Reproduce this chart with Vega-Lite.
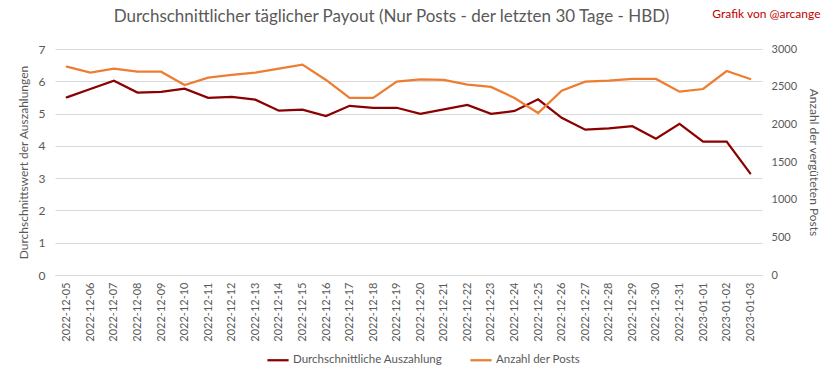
{
  "$schema": "https://vega.github.io/schema/vega-lite/v6.json",
  "width": 707,
  "height": 226,
  "autosize": {"type": "none"},
  "padding": {"left": 55, "top": 49, "right": 71, "bottom": 104},
  "background": "white",
  "title": {
    "text": "Durchschnittlicher täglicher Payout (Nur Posts - der letzten 30 Tage - HBD)",
    "anchor": "middle",
    "dx": -17,
    "dy": 33,
    "offset": 14,
    "fontSize": 17,
    "font": "Lato",
    "fontWeight": "normal",
    "color": "#595959"
  },
  "data": {
    "values": [
      {"date": "2022-12-05", "payout": 5.50, "posts": 2765},
      {"date": "2022-12-06", "payout": 5.76, "posts": 2686},
      {"date": "2022-12-07", "payout": 6.02, "posts": 2739},
      {"date": "2022-12-08", "payout": 5.65, "posts": 2699},
      {"date": "2022-12-09", "payout": 5.67, "posts": 2699},
      {"date": "2022-12-10", "payout": 5.77, "posts": 2522},
      {"date": "2022-12-11", "payout": 5.49, "posts": 2619},
      {"date": "2022-12-12", "payout": 5.52, "posts": 2655},
      {"date": "2022-12-13", "payout": 5.43, "posts": 2686},
      {"date": "2022-12-14", "payout": 5.09, "posts": 2739},
      {"date": "2022-12-15", "payout": 5.12, "posts": 2792},
      {"date": "2022-12-16", "payout": 4.92, "posts": 2589},
      {"date": "2022-12-17", "payout": 5.24, "posts": 2350},
      {"date": "2022-12-18", "payout": 5.18, "posts": 2350},
      {"date": "2022-12-19", "payout": 5.18, "posts": 2566},
      {"date": "2022-12-20", "payout": 4.99, "posts": 2598},
      {"date": "2022-12-21", "payout": 5.13, "posts": 2589},
      {"date": "2022-12-22", "payout": 5.27, "posts": 2527},
      {"date": "2022-12-23", "payout": 4.99, "posts": 2496},
      {"date": "2022-12-24", "payout": 5.08, "posts": 2350},
      {"date": "2022-12-25", "payout": 5.44, "posts": 2151},
      {"date": "2022-12-26", "payout": 4.87, "posts": 2447},
      {"date": "2022-12-27", "payout": 4.50, "posts": 2566},
      {"date": "2022-12-28", "payout": 4.54, "posts": 2580},
      {"date": "2022-12-29", "payout": 4.61, "posts": 2602},
      {"date": "2022-12-30", "payout": 4.22, "posts": 2602},
      {"date": "2022-12-31", "payout": 4.68, "posts": 2434},
      {"date": "2023-01-01", "payout": 4.13, "posts": 2469},
      {"date": "2023-01-02", "payout": 4.13, "posts": 2708},
      {"date": "2023-01-03", "payout": 3.15, "posts": 2602}
    ]
  },
  "encoding": {
    "x": {
      "field": "date",
      "type": "ordinal",
      "sort": null,
      "scale": {"type": "point", "padding": 0.5},
      "axis": {
        "title": null,
        "labelAngle": 270,
        "labelAlign": "right",
        "labelBaseline": "middle",
        "labelPadding": 7,
        "ticks": false,
        "domainColor": "#d9d9d9",
        "labelColor": "#595959",
        "labelFontSize": 11,
        "labelFont": "Lato"
      }
    }
  },
  "layer": [
    {
      "mark": {"type": "line", "strokeWidth": 2.25, "strokeCap": "round"},
      "encoding": {
        "y": {
          "field": "payout",
          "type": "quantitative",
          "scale": {"domain": [0, 7], "nice": false},
          "axis": {
            "title": "Durchschnittswert der Auszahlungen",
            "titleFont": "Lato",
            "titleFontSize": 12,
            "titleFontWeight": "normal",
            "titleColor": "#595959",
            "titlePadding": 8,
            "values": [0, 1, 2, 3, 4, 5, 6, 7],
            "grid": true,
            "gridColor": "#d9d9d9",
            "domain": false,
            "ticks": false,
            "labelPadding": 10,
            "labelColor": "#595959",
            "labelFontSize": 12,
            "labelFont": "Lato"
          }
        },
        "color": {
          "datum": "Durchschnittliche Auszahlung",
          "type": "nominal",
          "scale": {
            "domain": ["Durchschnittliche Auszahlung", "Anzahl der Posts"],
            "range": ["#8b0000", "#ed7d31"]
          },
          "legend": {
            "title": null,
            "orient": "none",
            "direction": "horizontal",
            "legendX": 211,
            "legendY": 299,
            "symbolType": "stroke",
            "symbolStrokeWidth": 2.25,
            "symbolSize": 450,
            "labelFont": "Lato",
            "labelFontSize": 11.5,
            "labelColor": "#595959",
            "columnPadding": 22,
            "labelOffset": 3
          }
        }
      }
    },
    {
      "mark": {"type": "line", "strokeWidth": 2.25, "strokeCap": "round"},
      "encoding": {
        "x": {
          "field": "date",
          "type": "ordinal",
          "sort": null,
          "scale": {"type": "point", "padding": 0.5},
          "axis": {
            "orient": "top",
            "labels": false,
            "ticks": false,
            "domain": false,
            "title": "Grafik von @arcange",
            "titleFont": "Lato",
            "titleFontSize": 12,
            "titleFontWeight": "normal",
            "titleColor": "#c00000",
            "titleAlign": "right",
            "titleAnchor": "end",
            "titleX": 765,
            "titleY": -29
          }
        },
        "y": {
          "field": "posts",
          "type": "quantitative",
          "scale": {"domain": [0, 3000], "nice": false},
          "axis": {
            "orient": "right",
            "format": "d",
            "title": "Anzahl der vergüteten  Posts",
            "titleFont": "Lato",
            "titleFontSize": 12,
            "titleFontWeight": "normal",
            "titleColor": "#595959",
            "titlePadding": 10,
            "values": [0, 500, 1000, 1500, 2000, 2500, 3000],
            "grid": false,
            "domain": false,
            "ticks": false,
            "labelPadding": 9,
            "labelColor": "#595959",
            "labelFontSize": 11,
            "labelFont": "Lato"
          }
        },
        "color": {"datum": "Anzahl der Posts", "type": "nominal"}
      }
    }
  ],
  "resolve": {"scale": {"y": "independent"}, "axis": {"x": "independent"}},
  "config": {"view": {"stroke": null}}
}
